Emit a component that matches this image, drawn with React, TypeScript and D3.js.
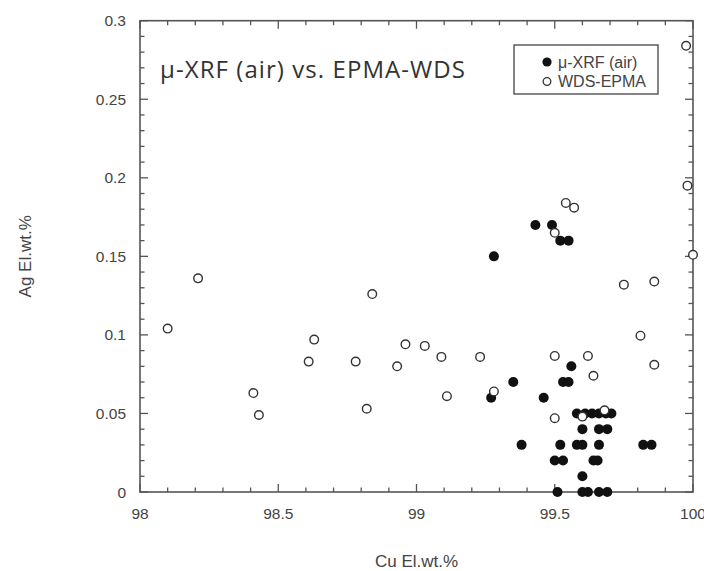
import React from "react";
import * as d3 from "d3";

const xrfCu = [99.28, 99.43, 99.49, 99.52, 99.55, 99.56, 99.35, 99.53, 99.55, 99.27, 99.46,
  99.58, 99.61, 99.635, 99.66, 99.685, 99.705, 99.6, 99.66, 99.69,
  99.38, 99.52, 99.58, 99.6, 99.66, 99.82, 99.85,
  99.5, 99.53, 99.64, 99.655, 99.6, 99.51, 99.6, 99.62, 99.66, 99.69];
const xrfAg = [0.15, 0.17, 0.17, 0.16, 0.16, 0.08, 0.07, 0.07, 0.07, 0.06, 0.06,
  0.05, 0.05, 0.05, 0.05, 0.05, 0.05, 0.04, 0.04, 0.04,
  0.03, 0.03, 0.03, 0.03, 0.03, 0.03, 0.03,
  0.02, 0.02, 0.02, 0.02, 0.01, 0, 0, 0, 0, 0];

const wdsCu = [98.1, 98.21, 98.41, 98.43, 98.61, 98.63, 98.78, 98.82, 98.84, 98.93, 98.96, 99.03,
  99.09, 99.23, 99.5, 99.62, 99.54, 99.57, 99.5, 99.98, 100.0, 99.75, 99.86, 99.81, 99.975,
  99.11, 99.28, 99.64, 99.5, 99.6, 99.68, 99.86];
const wdsAg = [0.104, 0.136, 0.063, 0.049, 0.083, 0.097, 0.083, 0.053, 0.126, 0.08, 0.094, 0.093,
  0.086, 0.086, 0.0866, 0.0866, 0.184, 0.181, 0.165, 0.195, 0.151, 0.132, 0.134, 0.0995, 0.284,
  0.061, 0.064, 0.074, 0.047, 0.048, 0.052, 0.081];

const xMajor = [98, 98.5, 99, 99.5, 100];
const xMajorLabels = ["98", "98.5", "99", "99.5", "100"];
const yMajor = [0, 0.05, 0.1, 0.15, 0.2, 0.25, 0.3];
const yMajorLabels = ["0", "0.05", "0.1", "0.15", "0.2", "0.25", "0.3"];

const title = "\u03bc-XRF (air) vs. EPMA-WDS";
const legendLabels = ["\u03bc-XRF (air)", "WDS-EPMA"];
const xTitle = "Cu El.wt.%";
const yTitle = "Ag El.wt.%";

export default function App() {
  const W = 704, H = 571;
  const L = 140, R = 693, T = 20.7, B = 492;
  const x = d3.scaleLinear().domain([98, 100]).range([L, R]);
  const y = d3.scaleLinear().domain([0, 0.3]).range([B, T]);
  const xMinor = d3.range(0, 21).map((i) => 98 + i * 0.1);
  const yMinor = d3.range(0, 31).map((i) => i * 0.01);
  const axisColor = "#555";
  const font = "'Liberation Sans', Arial, Helvetica, sans-serif";
  const isMajorX = (v: number) => Math.abs(v * 2 - Math.round(v * 2)) < 1e-6;
  const isMajorY = (v: number) => Math.abs(v * 20 - Math.round(v * 20)) < 1e-6;

  return (
    <svg width={W} height={H} style={{ position: "absolute", left: 0, top: 0, background: "#fff" }}>
      <rect x={0} y={0} width={W} height={H} fill="#fff" />
      {xMinor.map((v, i) => {
        const len = isMajorX(v) ? 8 : 4.5;
        return (
          <g key={"xt" + i}>
            <line x1={x(v)} x2={x(v)} y1={B} y2={B - len} stroke={axisColor} strokeWidth={1.3} />
            <line x1={x(v)} x2={x(v)} y1={T} y2={T + len} stroke={axisColor} strokeWidth={1.3} />
          </g>
        );
      })}
      {yMinor.map((v, i) => {
        const len = isMajorY(v) ? 8 : 4.5;
        return (
          <g key={"yt" + i}>
            <line x1={L} x2={L + len} y1={y(v)} y2={y(v)} stroke={axisColor} strokeWidth={1.3} />
            <line x1={R} x2={R - len} y1={y(v)} y2={y(v)} stroke={axisColor} strokeWidth={1.3} />
          </g>
        );
      })}
      <rect x={L} y={T} width={R - L} height={B - T} fill="none" stroke={axisColor} strokeWidth={1.6} />
      {xMajor.map((v, i) => (
        <text key={"xl" + i} x={x(v)} y={519} textAnchor="middle" fontFamily={font} fontSize={15.5} fill="#444">
          {xMajorLabels[i]}
        </text>
      ))}
      {yMajor.map((v, i) => (
        <text key={"yl" + i} x={126} y={y(v) + 5.5} textAnchor="end" fontFamily={font} fontSize={15.5} fill="#444">
          {yMajorLabels[i]}
        </text>
      ))}
      <text x={(L + R) / 2} y={567} textAnchor="middle" fontFamily={font} fontSize={17} fill="#444">
        {xTitle}
      </text>
      <text
        transform={`translate(31, ${(T + B) / 2}) rotate(-90)`}
        textAnchor="middle"
        fontFamily={font}
        fontSize={17}
        fill="#444"
      >
        {yTitle}
      </text>
      <text x={160} y={78} fontFamily="'Open Sans', Lato, sans-serif" fontSize={24} fill="#333"
        textLength={305} lengthAdjust="spacing">
        {title}
      </text>
      {xrfCu.map((c, i) => (
        <circle key={"f" + i} cx={x(c)} cy={y(xrfAg[i])} r={5} fill="#111" />
      ))}
      {wdsCu.map((c, i) => (
        <circle key={"o" + i} cx={x(c)} cy={y(wdsAg[i])} r={4.3} fill="#fff" stroke="#333" strokeWidth={1.4} />
      ))}
      <rect x={514} y={45} width={144} height={49} fill="#fff" stroke="#444" strokeWidth={1.3} />
      <circle cx={547} cy={62} r={4.6} fill="#111" />
      <circle cx={547} cy={81.5} r={3.8} fill="#fff" stroke="#333" strokeWidth={1.3} />
      <text x={558} y={67.5} fontFamily={font} fontSize={16} fill="#444">{legendLabels[0]}</text>
      <text x={558} y={87} fontFamily={font} fontSize={16} fill="#444">{legendLabels[1]}</text>
    </svg>
  );
}
